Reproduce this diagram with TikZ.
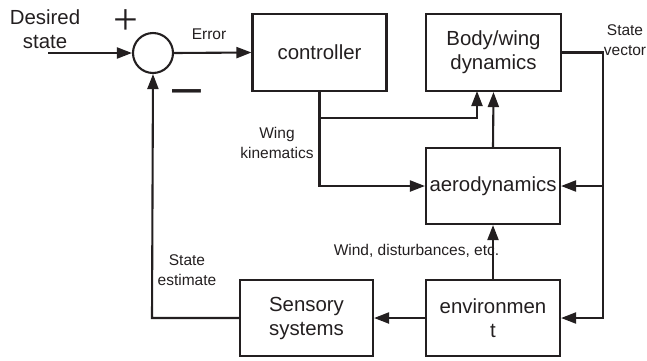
\documentclass[tikz,border=0pt]{standalone}
\usepackage{fontspec}
\setmainfont{Liberation Sans}
\newfontfamily\signfont{Liberation Serif}
\usetikzlibrary{arrows.meta}
\definecolor{ink}{RGB}{35,31,32}
\begin{document}
\begin{tikzpicture}[x=1pt,y=-1pt,
  line width=2.1pt, draw=ink, text=ink,
  blk/.style={draw, rectangle, minimum width=134pt, minimum height=77pt, inner sep=0pt,
    font=\fontsize{20.4}{24}\selectfont, align=center},
  lbl/.style={font=\fontsize{15.5}{19.5}\selectfont, align=center, inner sep=0pt},
  big/.style={font=\fontsize{20.4}{24.5}\selectfont, align=center, inner sep=0pt},
  arr/.style={-{Triangle[length=15pt,width=11pt]}}]
\useasboundingbox (0,0) rectangle (647,360);
% blocks
\node[draw, circle, minimum size=40pt, inner sep=0pt] (sum) at (153,53) {};
\node[blk] (ctrl) at (319.5,52.5) {controller};
\node[blk, minimum width=135pt] (body) at (493.5,52.5) {Body/wing\\dynamics};
\node[blk, minimum height=76pt] (aero) at (493,186) {aerodynamics};
\node[blk, minimum height=76pt] (env) at (493,318) {environmen\\t};
\node[blk, minimum width=133pt, minimum height=76pt] (sens) at (306.5,318) {Sensory\\systems};
% coordinates
\coordinate (din) at (48,53);
\coordinate (j1) at (320,118);
\coordinate (bodyL) at (477,91);
\coordinate (sv) at (603,52.5);
\coordinate (svA) at (603,186);
\coordinate (svE) at (603,318);
\coordinate (fb) at (152,318);
% connectors
\draw[arr] (din) -- (sum.west);
\draw[arr] (sum.east) -- (ctrl.west);
\draw[arr] (ctrl.south) |- (aero.west);
\draw[arr] (j1) -| (bodyL);
\draw[arr] (aero.north) -- (body.south);
\draw[arr] (body.east) -- (sv) -- (svE) -- (env.east);
\draw[arr] (svA) -- (aero.east);
\draw[arr] (env.north) -- (aero.south);
\draw[arr] (env.west) -- (sens.east);
\draw[arr] (sens.west) -- (fb) -- (sum.south);
% labels
\node[big] (desired) at (45,29) {Desired\\state};
\node[font=\signfont\fontsize{44}{44}\selectfont, inner sep=0pt] (plus) at (126,22) {+};
\node[font=\fontsize{52}{52}\selectfont, inner sep=0pt] (minus) at (186.5,97) {–};
\node[lbl] (err) at (209,34) {Error};
\node[lbl] (svlbl) at (625,40) {State\\vector};
\node[lbl] (wk) at (277,143) {Wing\\kinematics};
\node[lbl] (wind) at (416.5,251) {Wind, disturbances, etc.};
\node[lbl] (se) at (187,270) {State\\estimate};
\end{tikzpicture}
\end{document}
